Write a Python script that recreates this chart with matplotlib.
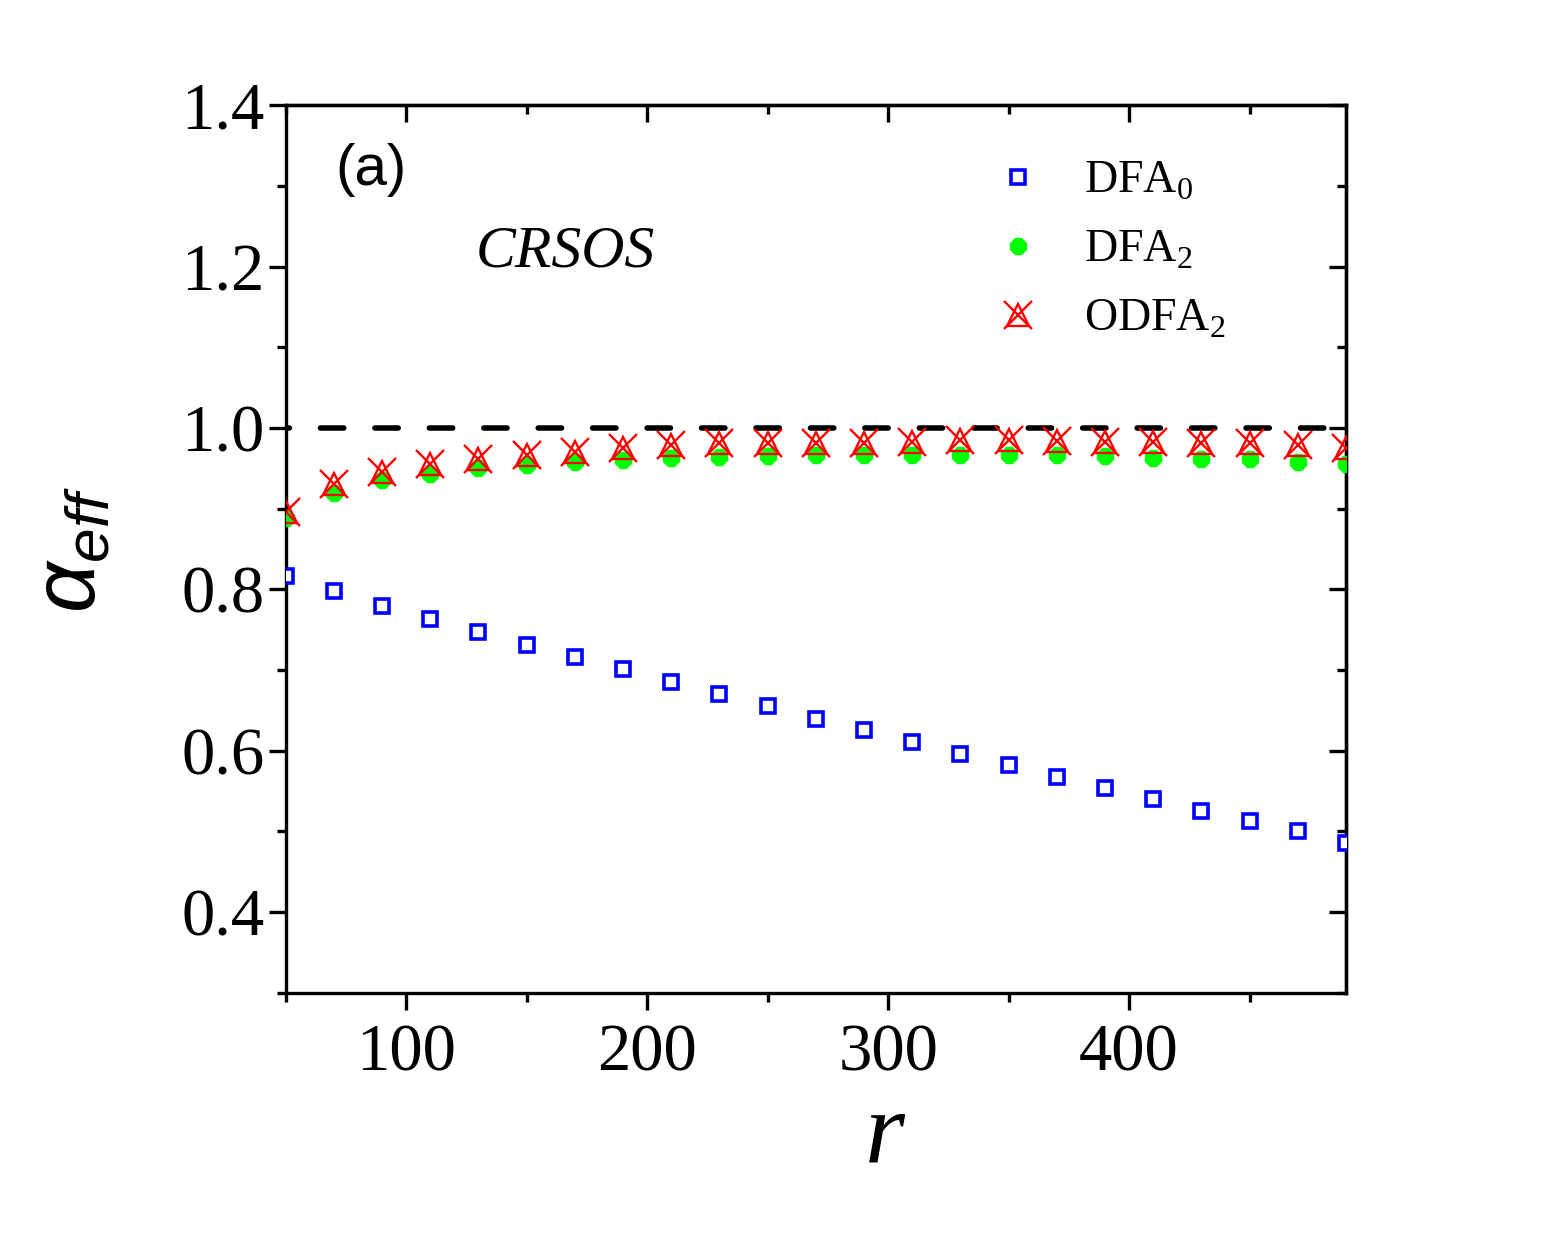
import matplotlib
matplotlib.use("Agg")
import matplotlib.pyplot as plt
from matplotlib.lines import Line2D
from matplotlib.ticker import MultipleLocator

plt.rcParams["font.family"] = ["Liberation Serif", "DejaVu Serif"]
plt.rcParams["mathtext.fontset"] = "custom"
plt.rcParams["mathtext.rm"] = "Liberation Serif"
plt.rcParams["mathtext.it"] = "Liberation Sans:italic"

# valores
r = [50, 70, 90, 110, 130, 150, 170, 190, 210, 230, 250, 270,
     290, 310, 330, 350, 370, 390, 410, 430, 450, 470, 490]
dfa0 = [0.816, 0.798, 0.780, 0.763, 0.747, 0.731, 0.716, 0.701, 0.685, 0.670, 0.655, 0.640,
        0.626, 0.611, 0.596, 0.582, 0.568, 0.554, 0.540, 0.526, 0.513, 0.500, 0.486]
dfa2 = [0.888, 0.919, 0.935, 0.943, 0.950, 0.954, 0.958, 0.960, 0.963, 0.964, 0.965, 0.966,
        0.966, 0.966, 0.966, 0.966, 0.966, 0.965, 0.963, 0.962, 0.961, 0.958, 0.955]
odfa2 = [0.896, 0.931, 0.946, 0.956, 0.962, 0.966, 0.970, 0.975, 0.979, 0.981, 0.982, 0.982,
         0.982, 0.983, 0.985, 0.985, 0.984, 0.983, 0.983, 0.982, 0.981, 0.979, 0.975]
ref_level = 1.0

fig = plt.figure(figsize=(15.57, 12.38), dpi=100)
ax = fig.add_axes([0.1834, 0.198, 0.6811, 0.717])

# linha de referência
ax.axhline(ref_level, color="black", lw=4.0, dash_capstyle="round",
           linestyle=(3.6, (4.2, 5.6)), zorder=1)

ax.plot(r, dfa0, ls="none", marker="s", ms=10, mfc="white", mec="#0000ff", mew=2.6,
        zorder=3)
ax.plot(r, dfa2, ls="none", marker="8", ms=13, mfc="#00ff00", mec="#00ff00", mew=1,
        zorder=3)
ax.plot(r, odfa2, ls="none", marker="x", ms=20, mec="#ff0000", mew=1.7, zorder=4)
ax.plot(r, odfa2, ls="none", marker="^", ms=16, mfc="none", mec="#ff0000", mew=1.7,
        zorder=4)

ax.set_xlim(50, 490)
ax.set_ylim(0.3, 1.4)
ax.xaxis.set_major_locator(MultipleLocator(100))
ax.xaxis.set_minor_locator(MultipleLocator(50))
ax.yaxis.set_minor_locator(MultipleLocator(0.1))
ax.set_yticks([0.4, 0.6, 0.8, 1.0, 1.2, 1.4])
ax.set_yticklabels(["0.4", "0.6", "0.8", "1.0", "1.2", "1.4"])

for s in ax.spines.values():
    s.set_linewidth(2.4)

ax.tick_params(axis="both", which="major", labelsize=48, width=2.4, length=12)
ax.tick_params(axis="both", which="minor", width=2.4, length=6.5)
ax.tick_params(axis="x", which="both", direction="out", top=False)
ax.tick_params(axis="y", which="both", direction="out", right=False)
ax.tick_params(axis="x", which="major", pad=10)
ax.tick_params(axis="y", which="major", pad=3)

# ticks internos no topo e à direita
sec_x = ax.secondary_xaxis("top")
sec_x.xaxis.set_major_locator(MultipleLocator(100))
sec_x.xaxis.set_minor_locator(MultipleLocator(50))
sec_x.tick_params(which="both", direction="in", labeltop=False, width=2.4)
sec_x.tick_params(which="major", length=12)
sec_x.tick_params(which="minor", length=6.5)
sec_x.spines["top"].set_linewidth(2.4)
sec_y = ax.secondary_yaxis("right")
sec_y.yaxis.set_major_locator(MultipleLocator(0.2))
sec_y.yaxis.set_minor_locator(MultipleLocator(0.1))
sec_y.tick_params(which="both", direction="in", labelright=False, width=2.4)
sec_y.tick_params(which="major", length=12)
sec_y.tick_params(which="minor", length=6.5)
sec_y.spines["right"].set_linewidth(2.4)

ax.set_xlabel("r", fontsize=74, fontstyle="italic")
ax.xaxis.set_label_coords(0.565, -0.11)
ax.set_ylabel(r"$\alpha_{eff}$", fontsize=64)
ax.yaxis.set_label_coords(-0.161, 0.5)

ax.text(0.047, 0.927, "(a)", transform=ax.transAxes, fontsize=42,
        family="Liberation Sans", va="center", ha="left")
ax.text(0.179, 0.834, "CRSOS", transform=ax.transAxes, fontsize=43,
        fontstyle="italic", va="center", ha="left")

h0 = Line2D([], [], ls="none", marker="s", ms=10, mfc="white", mec="#0000ff", mew=2.6)
h1 = Line2D([], [], ls="none", marker="8", ms=13, mfc="#00ff00", mec="#00ff00")
h2a = Line2D([], [], ls="none", marker="x", ms=20, mec="#ff0000", mew=1.7)
h2b = Line2D([], [], ls="none", marker="^", ms=16, mfc="none", mec="#ff0000", mew=1.7)
ax.legend([h0, h1, (h2a, h2b)], ["DFA$_0$", "DFA$_2$", "ODFA$_2$"],
          loc="upper left", bbox_to_anchor=(0.669, 0.938), frameon=False,
          fontsize=33, handlelength=1.0, handletextpad=0.95, borderpad=0,
          borderaxespad=0, labelspacing=0.58)

fig.savefig("out.png", dpi=100)
